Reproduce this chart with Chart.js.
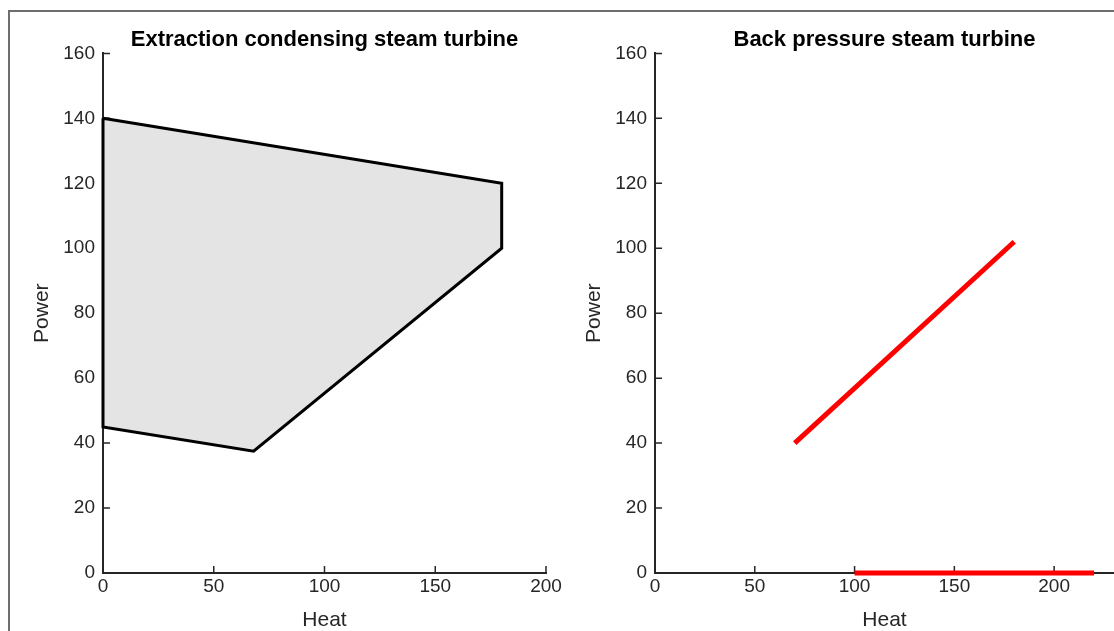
<!DOCTYPE html>
<html>
<head>
<meta charset="utf-8">
<script src="https://cdn.jsdelivr.net/npm/chart.js@4.4.1/dist/chart.umd.min.js"></script>
<style>
  html, body { margin: 0; padding: 0; background: #fff; overflow: hidden; }
  body { width: 1114px; height: 631px; position: relative; }
  .frame { position: absolute; left: 8px; top: 10px; right: -10px; bottom: -10px;
           border-left: 2px solid #6e6e6e; border-top: 2px solid #6e6e6e; }
  #leftBox { position: absolute; left: 0; top: 0; width: 580px; height: 631px; }
  #rightBox { position: absolute; left: 560px; top: 0; width: 554px; height: 631px; }
</style>
</head>
<body>
<div class="frame"></div>
<div id="leftBox"><canvas id="extractionChart"></canvas></div>
<div id="rightBox"><canvas id="backPressureChart"></canvas></div>
<script>
// Extraction condensing turbine: operating region (closed polygon)
const extractionHeat = [0, 180, 180, 68, 0, 0];
const extractionPower = [140, 120, 100, 37.5, 45, 140];

// Back pressure turbine: two operating lines
const backPressureHeat = [70, 180];
const backPressurePower = [40, 102];
const heatOnlyHeat = [100, 220];
const heatOnlyPower = [0, 0];

const xTicks = [0, 50, 100, 150, 200];
const yTicks = [0, 20, 40, 60, 80, 100, 120, 140, 160];

const toPoints = (xs, ys) => xs.map((x, i) => ({ x: x, y: ys[i] }));

const AXIS = '#262626';
const FONT = '"Liberation Sans", Arial, Helvetica, sans-serif';

// MATLAB-style inward tick marks, drawn below the data
const inwardTicks = {
    id: 'inwardTicks',
    beforeDatasetsDraw(chart) {
        const ctx = chart.ctx;
        const { x, y } = chart.scales;
        ctx.save();
        ctx.strokeStyle = AXIS;
        ctx.lineWidth = 1.5;
        ctx.beginPath();
        x.ticks.forEach(t => {
            const px = x.getPixelForValue(t.value);
            ctx.moveTo(px, x.top);
            ctx.lineTo(px, x.top - 7);
        });
        y.ticks.forEach(t => {
            const py = y.getPixelForValue(t.value);
            ctx.moveTo(y.right, py);
            ctx.lineTo(y.right + 7, py);
        });
        ctx.stroke();
        ctx.restore();
    }
};

function baseOptions(title, xMax, yAxisWidth, powerPad, rightPad) {
    return {
        responsive: true,
        maintainAspectRatio: false,
        animation: false,
        layout: { padding: { left: 0, right: rightPad, top: 0, bottom: 0 } },
        plugins: {
            legend: { display: false },
            tooltip: { enabled: false },
            title: {
                display: true,
                text: title,
                fullSize: false,
                color: '#000',
                font: { family: FONT, size: 22, weight: 'bold', lineHeight: 1.2 },
                padding: { top: 27, bottom: 0 }
            }
        },
        scales: {
            x: {
                type: 'linear',
                min: 0,
                max: xMax,
                afterBuildTicks: s => { s.ticks = xTicks.filter(v => v <= xMax).map(v => ({ value: v })); },
                afterFit: s => { s.height = 58; },
                grid: { display: false, drawTicks: false },
                border: { display: true, color: AXIS, width: 2 },
                ticks: { color: AXIS, padding: 2, maxRotation: 0, font: { family: FONT, size: 19 } },
                title: {
                    display: true, text: 'Heat', color: AXIS,
                    font: { family: FONT, size: 21, lineHeight: 1 },
                    padding: { top: 0, bottom: 0 }
                }
            },
            y: {
                type: 'linear',
                min: 0,
                max: 160,
                afterBuildTicks: s => { s.ticks = yTicks.map(v => ({ value: v })); },
                afterFit: s => { s.width = yAxisWidth; },
                grid: { display: false, drawTicks: false },
                border: { display: true, color: AXIS, width: 2 },
                ticks: { color: AXIS, padding: 8, font: { family: FONT, size: 19 } },
                title: {
                    display: true, text: 'Power', color: AXIS,
                    font: { family: FONT, size: 21, lineHeight: 1 },
                    padding: { top: powerPad, bottom: 0 }
                }
            }
        }
    };
}

// Extraction condensing steam turbine
new Chart(document.getElementById('extractionChart'), {
    type: 'scatter',
    data: {
        datasets: [{
            label: 'Operating region',
            data: toPoints(extractionHeat, extractionPower),
            showLine: true,
            fill: 'shape',
            backgroundColor: '#e4e4e4',
            borderColor: '#000',
            borderWidth: 3,
            borderJoinStyle: 'miter',
            pointRadius: 0,
            tension: 0,
            clip: false
        }]
    },
    options: baseOptions('Extraction condensing steam turbine', 200, 103, 32, 34),
    plugins: [inwardTicks]
});

// Back pressure steam turbine
new Chart(document.getElementById('backPressureChart'), {
    type: 'scatter',
    data: {
        datasets: [{
            label: 'CHP',
            data: toPoints(backPressureHeat, backPressurePower),
            showLine: true,
            borderColor: '#ff0000',
            borderWidth: 5,
            pointRadius: 0,
            clip: false
        }, {
            label: 'Heat only',
            data: toPoints(heatOnlyHeat, heatOnlyPower),
            showLine: true,
            borderColor: '#ff0000',
            borderWidth: 5,
            pointRadius: 0,
            clip: false
        }]
    },
    options: baseOptions('Back pressure steam turbine', 230, 95, 24, 0),
    plugins: [inwardTicks]
});
</script>
</body>
</html>
